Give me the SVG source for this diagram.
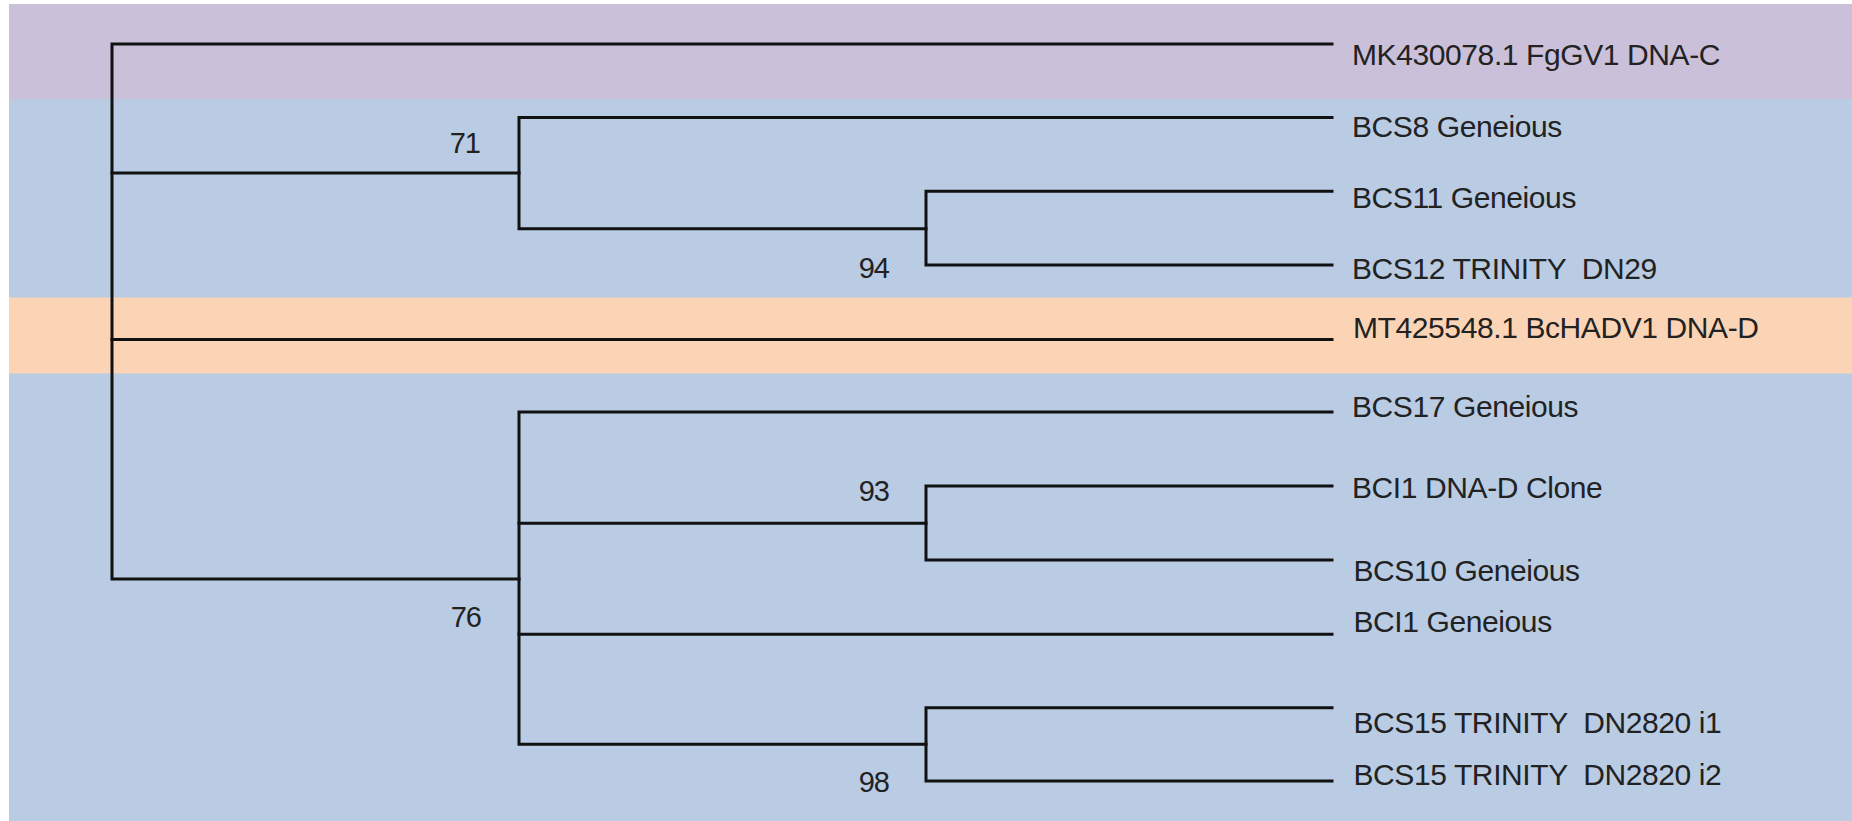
<svg xmlns="http://www.w3.org/2000/svg" width="1852" height="821" viewBox="0 0 1852 821">
  <style>
    .band-purple { fill: #cac0da; }
    .band-blue { fill: #b9cce4; }
    .band-orange { fill: #fbd4b6; }
    .branch { fill: none; stroke: #111111; stroke-width: 3; stroke-linecap: square; stroke-linejoin: miter; }
    .leaf { font-family: "Liberation Sans", Arial, sans-serif; font-size: 30px; letter-spacing: -0.4px; fill: #222222; white-space: pre; }
    .support { font-family: "Liberation Sans", Arial, sans-serif; font-size: 29px; letter-spacing: -1px; fill: #222222; text-anchor: end; }
  </style>

  <rect x="0" y="0" width="1852" height="821" fill="#ffffff"/>

  <!-- clade shading -->
  <g id="bands">
    <rect class="band-blue" x="9" y="99" width="1843" height="722"/>
    <rect class="band-purple" x="9" y="4" width="1843" height="95"/>
    <rect class="band-orange" x="9" y="297.5" width="1843" height="76"/>
  </g>

  <!-- tree branches -->
  <g id="connectors">
    <!-- root -->
    <path class="branch" d="M1332 44 H112 V579 H519"/>
    <path class="branch" d="M112 173 H519"/>
    <path class="branch" d="M112 339.5 H1332"/>
    <!-- node 71 -->
    <path class="branch" d="M1332 117.5 H519 V228.7 H926"/>
    <!-- node 94 -->
    <path class="branch" d="M1332 191.3 H926 V265 H1332"/>
    <!-- node 76 -->
    <path class="branch" d="M1332 412 H519 V744.3 H926"/>
    <path class="branch" d="M519 523.3 H926"/>
    <path class="branch" d="M519 634.3 H1332"/>
    <!-- node 93 -->
    <path class="branch" d="M1332 486 H926 V560 H1332"/>
    <!-- node 98 -->
    <path class="branch" d="M1332 707.7 H926 V781 H1332"/>
  </g>

  <!-- internal nodes with bootstrap support -->
  <g id="node-71"><text class="support" x="480" y="153">71</text></g>
  <g id="node-94"><text class="support" x="889" y="278">94</text></g>
  <g id="node-76"><text class="support" x="481" y="627">76</text></g>
  <g id="node-93"><text class="support" x="889" y="500.5">93</text></g>
  <g id="node-98"><text class="support" x="889" y="792">98</text></g>

  <!-- tips -->
  <g id="tip-MK430078"><text class="leaf" x="1352" y="65">MK430078.1 FgGV1 DNA-C</text></g>
  <g id="tip-BCS8"><text class="leaf" x="1352" y="137">BCS8 Geneious</text></g>
  <g id="tip-BCS11"><text class="leaf" x="1352" y="207.5">BCS11 Geneious</text></g>
  <g id="tip-BCS12"><text class="leaf" x="1352" y="279" xml:space="preserve">BCS12 TRINITY  DN29</text></g>
  <g id="tip-MT425548"><text class="leaf" x="1353" y="337.5">MT425548.1 BcHADV1 DNA-D</text></g>
  <g id="tip-BCS17"><text class="leaf" x="1352" y="417">BCS17 Geneious</text></g>
  <g id="tip-BCI1-clone"><text class="leaf" x="1352" y="497.5">BCI1 DNA-D Clone</text></g>
  <g id="tip-BCS10"><text class="leaf" x="1353.5" y="581">BCS10 Geneious</text></g>
  <g id="tip-BCI1"><text class="leaf" x="1353.5" y="631.5">BCI1 Geneious</text></g>
  <g id="tip-BCS15-i1"><text class="leaf" x="1353.5" y="732.5" xml:space="preserve">BCS15 TRINITY  DN2820 i1</text></g>
  <g id="tip-BCS15-i2"><text class="leaf" x="1353.5" y="785" xml:space="preserve">BCS15 TRINITY  DN2820 i2</text></g>
</svg>
